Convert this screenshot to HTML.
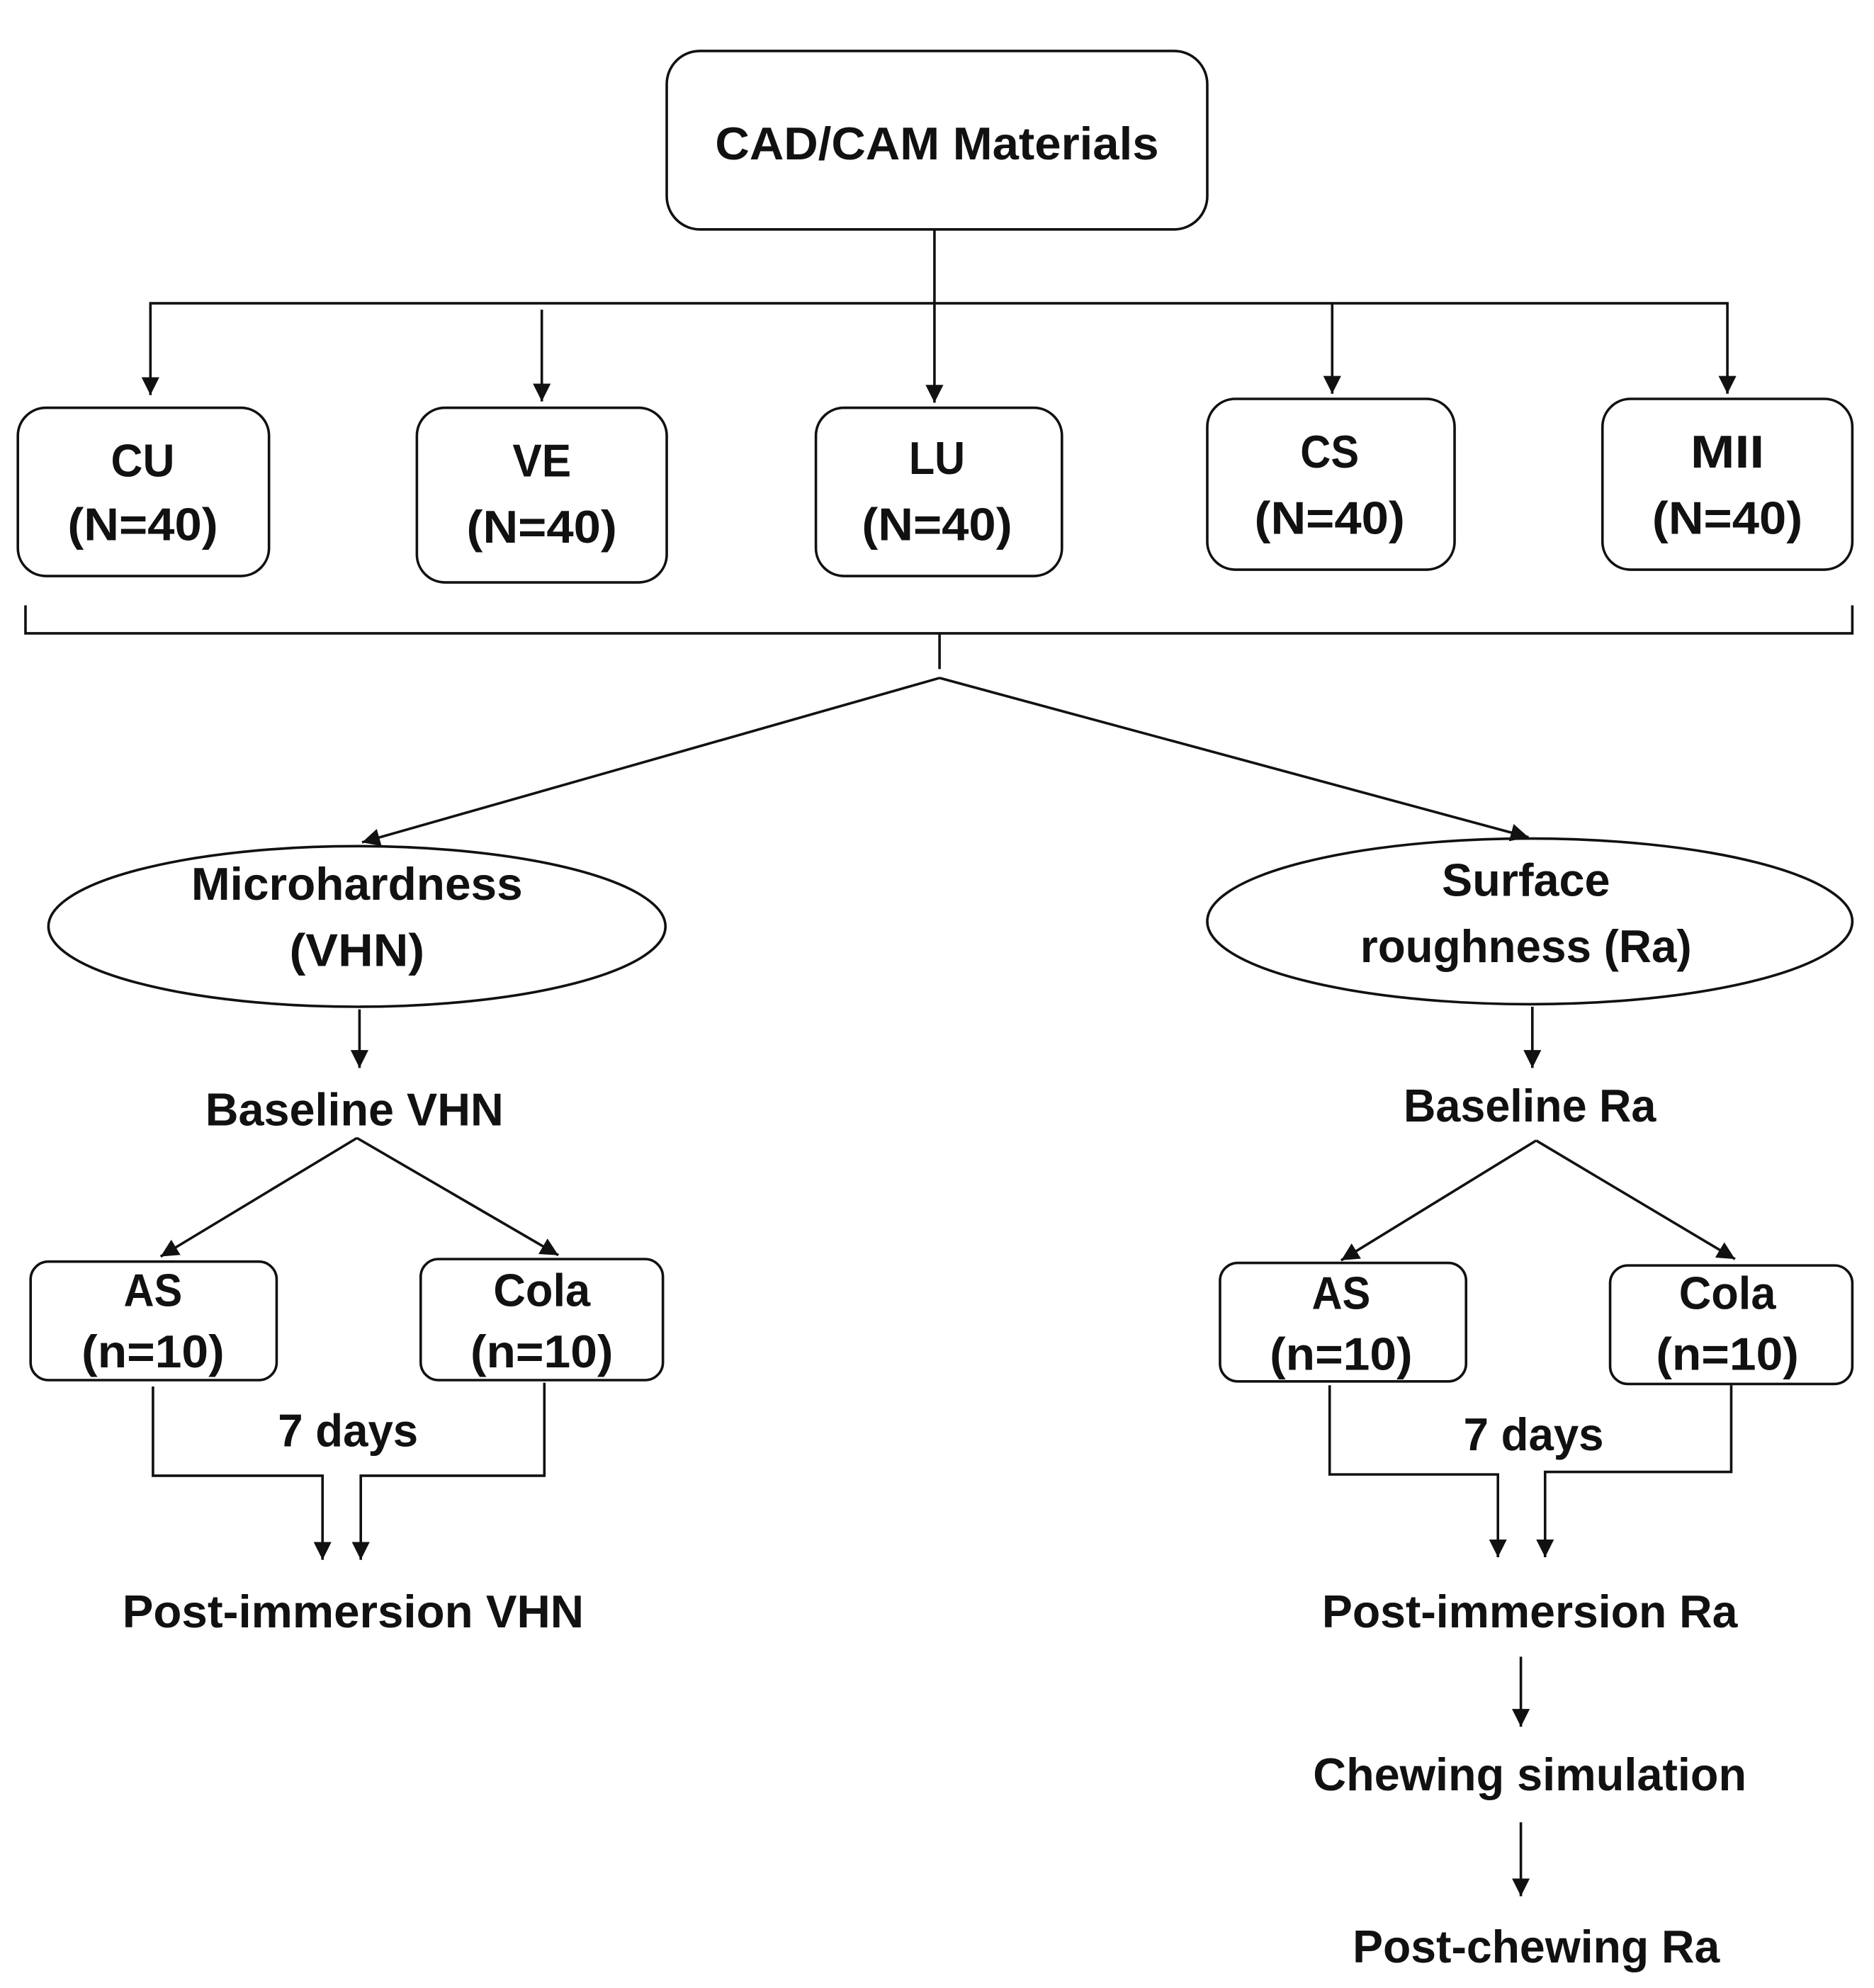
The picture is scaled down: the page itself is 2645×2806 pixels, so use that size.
<!DOCTYPE html>
<html><head><meta charset="utf-8"><style>
html,body{margin:0;padding:0;background:#fff;}
svg{display:block;}
text{font-family:"Liberation Sans",sans-serif;font-weight:bold;fill:#111;text-anchor:middle;font-size:36px;}
</style></head><body>
<svg width="2645" height="2806" viewBox="0 0 1470 1560" preserveAspectRatio="none" xmlns="http://www.w3.org/2000/svg">
<defs>
<marker id="b" markerWidth="14" markerHeight="16" refX="14" refY="7" orient="auto" markerUnits="userSpaceOnUse"><path d="M0,0 L14,7 L0,14 z" fill="#111"/></marker></defs>
<g fill="none" stroke="#111" stroke-width="2">
<rect x="523" y="40" width="424" height="140" rx="26"/>
<rect x="14" y="320" width="197" height="132" rx="22"/>
<rect x="327" y="320" width="196" height="137" rx="22"/>
<rect x="640" y="320" width="193" height="132" rx="22"/>
<rect x="947" y="313" width="194" height="134" rx="22"/>
<rect x="1257" y="313" width="196" height="134" rx="22"/>
<line x1="733" y1="180" x2="733" y2="316" marker-end="url(#b)"/>
<line x1="117" y1="238" x2="1356" y2="238"/>
<line x1="118" y1="238" x2="118" y2="310" marker-end="url(#b)"/>
<line x1="425" y1="243" x2="425" y2="315" marker-end="url(#b)"/>
<line x1="1045" y1="238" x2="1045" y2="309" marker-end="url(#b)"/>
<line x1="1355" y1="238" x2="1355" y2="309" marker-end="url(#b)"/>
<path d="M20,475 V497 H1453 V475 M737,497 V525"/>
<line x1="737" y1="532" x2="284" y2="661" marker-end="url(#b)"/>
<line x1="737" y1="532" x2="1199" y2="657" marker-end="url(#b)"/>
<ellipse cx="280" cy="727" rx="242" ry="63"/>
<ellipse cx="1200" cy="723" rx="253" ry="65"/>
<line x1="282" y1="792" x2="282" y2="838" marker-end="url(#b)"/>
<line x1="1202" y1="790" x2="1202" y2="838" marker-end="url(#b)"/>
<line x1="280" y1="893" x2="126" y2="986" marker-end="url(#b)"/>
<line x1="280" y1="893" x2="438" y2="985" marker-end="url(#b)"/>
<line x1="1205" y1="895" x2="1052" y2="989" marker-end="url(#b)"/>
<line x1="1205" y1="895" x2="1361" y2="988" marker-end="url(#b)"/>
<rect x="24" y="990" width="193" height="93" rx="14"/>
<rect x="330" y="988" width="190" height="95" rx="14"/>
<rect x="957" y="991" width="193" height="93" rx="14"/>
<rect x="1263" y="993" width="190" height="93" rx="14"/>
<path d="M120,1088 V1158 H253 V1224" marker-end="url(#b)"/>
<path d="M427,1085 V1158 H283 V1224" marker-end="url(#b)"/>
<path d="M1043,1087 V1157 H1175 V1222" marker-end="url(#b)"/>
<path d="M1358,1087 V1155 H1212 V1222" marker-end="url(#b)"/>
<line x1="1193" y1="1300" x2="1193" y2="1355" marker-end="url(#b)"/>
<line x1="1193" y1="1430" x2="1193" y2="1488" marker-end="url(#b)"/>
</g>
<text x="735" y="125" textLength="348" lengthAdjust="spacingAndGlyphs">CAD/CAM Materials</text>
<text x="112" y="374" textLength="50" lengthAdjust="spacingAndGlyphs">CU</text><text x="112" y="424" textLength="118" lengthAdjust="spacingAndGlyphs">(N=40)</text>
<text x="425" y="374" textLength="46" lengthAdjust="spacingAndGlyphs">VE</text><text x="425" y="426" textLength="118" lengthAdjust="spacingAndGlyphs">(N=40)</text>
<text x="735" y="372" textLength="44" lengthAdjust="spacingAndGlyphs">LU</text><text x="735" y="424" textLength="118" lengthAdjust="spacingAndGlyphs">(N=40)</text>
<text x="1043" y="367" textLength="46" lengthAdjust="spacingAndGlyphs">CS</text><text x="1043" y="419" textLength="118" lengthAdjust="spacingAndGlyphs">(N=40)</text>
<text x="1355" y="367" textLength="58" lengthAdjust="spacingAndGlyphs">MII</text><text x="1355" y="419" textLength="118" lengthAdjust="spacingAndGlyphs">(N=40)</text>
<text x="280" y="706" textLength="260" lengthAdjust="spacingAndGlyphs">Microhardness</text>
<text x="280" y="758" textLength="106" lengthAdjust="spacingAndGlyphs">(VHN)</text>
<text x="1197" y="703" textLength="132" lengthAdjust="spacingAndGlyphs">Surface</text>
<text x="1197" y="755" textLength="260" lengthAdjust="spacingAndGlyphs">roughness (Ra)</text>
<text x="278" y="883" textLength="234" lengthAdjust="spacingAndGlyphs">Baseline VHN</text>
<text x="1200" y="880" textLength="198" lengthAdjust="spacingAndGlyphs">Baseline Ra</text>
<text x="120" y="1025" textLength="46" lengthAdjust="spacingAndGlyphs">AS</text><text x="120" y="1073" textLength="112" lengthAdjust="spacingAndGlyphs">(n=10)</text>
<text x="425" y="1025" textLength="76" lengthAdjust="spacingAndGlyphs">Cola</text><text x="425" y="1073" textLength="112" lengthAdjust="spacingAndGlyphs">(n=10)</text>
<text x="1052" y="1027" textLength="46" lengthAdjust="spacingAndGlyphs">AS</text><text x="1052" y="1075" textLength="112" lengthAdjust="spacingAndGlyphs">(n=10)</text>
<text x="1355" y="1027" textLength="76" lengthAdjust="spacingAndGlyphs">Cola</text><text x="1355" y="1075" textLength="112" lengthAdjust="spacingAndGlyphs">(n=10)</text>
<text x="273" y="1135" textLength="110" lengthAdjust="spacingAndGlyphs">7 days</text>
<text x="1203" y="1138" textLength="110" lengthAdjust="spacingAndGlyphs">7 days</text>
<text x="277" y="1277" textLength="362" lengthAdjust="spacingAndGlyphs">Post-immersion VHN</text>
<text x="1200" y="1277" textLength="326" lengthAdjust="spacingAndGlyphs">Post-immersion Ra</text>
<text x="1200" y="1405" textLength="340" lengthAdjust="spacingAndGlyphs">Chewing simulation</text>
<text x="1205" y="1540" textLength="288" lengthAdjust="spacingAndGlyphs">Post-chewing Ra</text>
</svg>
</body></html>
